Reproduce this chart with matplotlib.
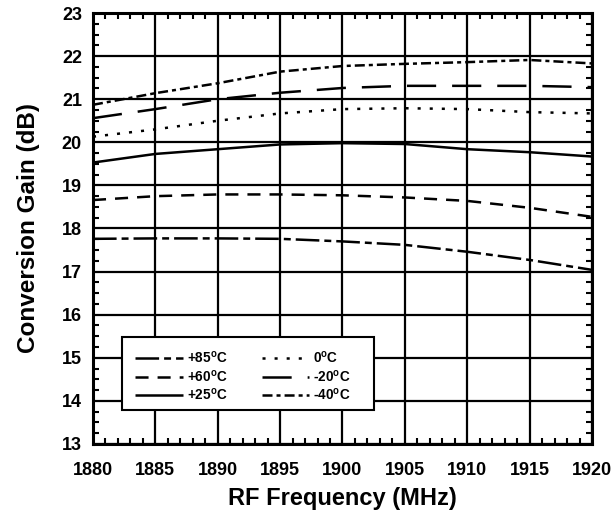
import matplotlib
matplotlib.use("Agg")
import matplotlib.pyplot as plt
from matplotlib.ticker import MultipleLocator
from matplotlib.patches import Rectangle

plt.rcParams['font.family'] = ['Liberation Sans', 'DejaVu Sans']
plt.rcParams['font.weight'] = 'bold'
plt.rcParams['mathtext.fontset'] = 'custom'
plt.rcParams['mathtext.rm'] = 'Liberation Sans:bold'
plt.rcParams['mathtext.bf'] = 'Liberation Sans:bold'
plt.rcParams['mathtext.default'] = 'bf'
plt.rcParams['lines.scale_dashes'] = False

freq = [1880, 1885, 1890, 1895, 1900, 1905, 1910, 1915, 1920]
gain_p85 = [17.76, 17.77, 17.77, 17.76, 17.70, 17.62, 17.46, 17.27, 17.04]
gain_p60 = [18.66, 18.75, 18.79, 18.79, 18.77, 18.72, 18.64, 18.48, 18.27]
gain_p25 = [19.53, 19.73, 19.84, 19.95, 19.98, 19.96, 19.84, 19.77, 19.67]
gain_0 = [20.13, 20.30, 20.50, 20.67, 20.77, 20.79, 20.77, 20.70, 20.67]
gain_m20 = [20.56, 20.77, 21.00, 21.15, 21.26, 21.31, 21.31, 21.31, 21.28]
gain_m40 = [20.87, 21.14, 21.37, 21.64, 21.77, 21.82, 21.86, 21.91, 21.83]

labels = ['+85$^{o}$C', '+60$^{o}$C', '+25$^{o}$C', '0$^{o}$C', '-20$^{o}$C', '-40$^{o}$C']

fig = plt.figure(figsize=(6.15, 5.18), dpi=100)
ax = fig.add_axes([0.1512, 0.1429, 0.8114, 0.8320])

lw = 1.8
styles = [
    (0, (17, 3.6, 5, 3.6)),
    (0, (9.4, 6.5)),
    'solid',
    (0, (2.2, 6.5)),
    (0, (21, 11.5)),
    (0, (7.2, 2.9, 2.9, 2.9)),
]
series = [gain_p85, gain_p60, gain_p25, gain_0, gain_m20, gain_m40]
for s, ls, lab in zip(series, styles, labels):
    ax.plot(freq, s, color='black', lw=lw, linestyle=ls, label=lab,
            dash_capstyle='butt', solid_capstyle='butt')

ax.set_xlim(1880, 1920)
ax.set_ylim(13, 23)
ax.xaxis.set_major_locator(MultipleLocator(5))
ax.xaxis.set_minor_locator(MultipleLocator(1))
ax.yaxis.set_major_locator(MultipleLocator(1))
ax.yaxis.set_minor_locator(MultipleLocator(0.25))
ax.grid(True, which='major', color='black', lw=1.6)
ax.tick_params(which='both', direction='in', top=True, right=True, width=1.5)
ax.tick_params(which='major', length=0, labelsize=13)
ax.tick_params(axis='y', which='major', pad=8)
ax.tick_params(axis='x', which='major', pad=13)
ax.tick_params(which='minor', length=4)
for sp in ax.spines.values():
    sp.set_linewidth(2.2)
for t in ax.get_xticklabels() + ax.get_yticklabels():
    t.set_fontweight('bold')

ax.set_xlabel('RF Frequency (MHz)', fontsize=17, fontweight='bold', labelpad=6)
ax.set_ylabel('Conversion Gain (dB)', fontsize=17.5, fontweight='bold', labelpad=16)

# legend box
box = Rectangle((0.058, 0.079), 0.505, 0.169, transform=ax.transAxes,
                facecolor='white', edgecolor='black', lw=1.5, zorder=4)
ax.add_patch(box)

leg = ax.legend(ncol=2, loc='upper left', bbox_to_anchor=(0.084, 0.218),
                fontsize=9.8, frameon=False, handlelength=3.5, handletextpad=0.3,
                columnspacing=2.5, labelspacing=0.17, borderpad=0.0,
                borderaxespad=0.0)
leg.set_zorder(5)
for t in leg.get_texts():
    t.set_fontweight('bold')

fig.savefig('out.png', dpi=100)
